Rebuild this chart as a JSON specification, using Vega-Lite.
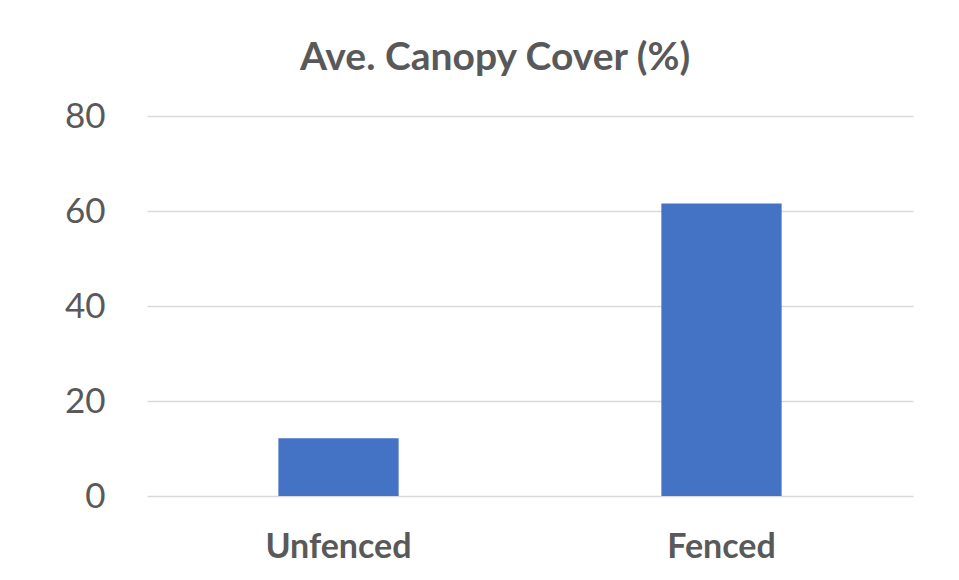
{
  "$schema": "https://vega.github.io/schema/vega-lite/v6.json",
  "autosize": {"type": "none"},
  "width": 766,
  "height": 380,
  "padding": {"left": 147, "top": 116, "right": 46, "bottom": 84},
  "background": "white",
  "title": {
    "text": "Ave. Canopy Cover (%)",
    "font": "Lato",
    "fontSize": 39,
    "fontWeight": "bold",
    "color": "#595959",
    "frame": "group",
    "anchor": "middle",
    "dx": -35,
    "offset": 21
  },
  "data": {
    "values": [
      {"group": "Unfenced", "cover": 12.15},
      {"group": "Fenced", "cover": 61.6}
    ]
  },
  "mark": {"type": "bar", "color": "#4472C4"},
  "encoding": {
    "x": {
      "field": "group",
      "type": "nominal",
      "sort": ["Unfenced", "Fenced"],
      "scale": {"paddingInner": 0.686, "paddingOuter": 0.343},
      "axis": {
        "title": null,
        "labelAngle": 0,
        "labelFont": "Lato",
        "labelFontSize": 34,
        "labelFontWeight": "bold",
        "labelColor": "#595959",
        "labelBaseline": "alphabetic",
        "labelPadding": 61,
        "ticks": false,
        "tickSize": 0,
        "domain": false,
        "grid": false
      }
    },
    "y": {
      "field": "cover",
      "type": "quantitative",
      "scale": {"domain": [0, 80], "nice": false},
      "axis": {
        "title": null,
        "values": [0, 20, 40, 60, 80],
        "labelFont": "Lato",
        "labelFontSize": 35,
        "labelColor": "#595959",
        "labelPadding": 42,
        "ticks": false,
        "tickSize": 0,
        "domain": false,
        "grid": true,
        "gridColor": "#d9d9d9",
        "gridWidth": 1.5
      }
    }
  },
  "config": {"view": {"stroke": null}}
}
